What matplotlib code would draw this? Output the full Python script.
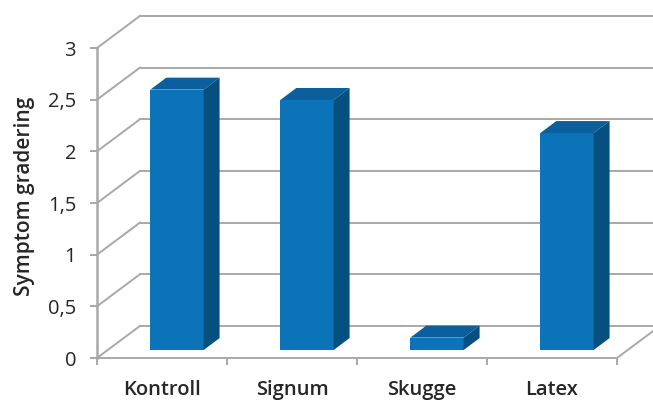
import matplotlib
matplotlib.use('Agg')
import matplotlib.pyplot as plt
from matplotlib.patches import Polygon
import numpy as np

# data
kategorier = ['Kontroll', 'Signum', 'Skugge', 'Latex']
gradering = [2.52, 2.42, 0.12, 2.10]
yticks = [0, 0.5, 1, 1.5, 2, 2.5, 3]
ytick_labels = ['0', '0,5', '1', '1,5', '2', '2,5', '3']

plt.rcParams['font.family'] = ['Open Sans', 'DejaVu Sans']

# colours
c_front = '#0b73b7'
c_top = '#0a5f9c'
c_side = '#06507f'
c_grid = '#a8a8a8'

# oblique depth (data units)
wall_dx, wall_dy = 0.33, 0.31     # back wall
bar_dx, bar_dy = 0.115, 0.077     # bar front face offset
dep_dx, dep_dy = 0.123, 0.116     # bar depth
bredd = 0.41

fig = plt.figure(figsize=(6.53, 4.03), dpi=100)
ax = fig.add_axes([97/653, 45/403, 520/653, 310/403])
ax.set_xlim(-0.5, 3.5)
ax.set_ylim(0, 3)

# back wall gridlines + left wall diagonals
for v in yticks:
    ax.plot([-0.5 + wall_dx, 5], [v + wall_dy, v + wall_dy], color=c_grid, lw=1.4,
            clip_on=False, zorder=1)
    ax.plot([-0.5, -0.5 + wall_dx], [v, v + wall_dy], color=c_grid, lw=1.4,
            clip_on=False, zorder=1)
# floor right edge
ax.plot([3.5, 3.5 + wall_dx], [0, wall_dy], color=c_grid, lw=1.4, clip_on=False, zorder=1)

# bars
x = np.arange(len(kategorier))
ax.bar(x + bar_dx, gradering, bredd, bottom=bar_dy, color=c_front, clip_on=False, zorder=3)
for xi, v in zip(x, gradering):
    l = xi + bar_dx - bredd / 2
    r = xi + bar_dx + bredd / 2
    t = bar_dy + v
    b = bar_dy
    top = Polygon([(l, t), (r, t), (r + dep_dx, t + dep_dy), (l + dep_dx, t + dep_dy)],
                  closed=True, facecolor=c_top, edgecolor='none', clip_on=False, zorder=3)
    side = Polygon([(r, b), (r + dep_dx, b + dep_dy), (r + dep_dx, t + dep_dy), (r, t)],
                   closed=True, facecolor=c_side, edgecolor='none', clip_on=False, zorder=3)
    ax.add_patch(top)
    ax.add_patch(side)

# axes
for s in ['top', 'right']:
    ax.spines[s].set_visible(False)
ax.spines['left'].set_color(c_grid)
ax.spines['left'].set_linewidth(1.8)
ax.spines['bottom'].set_color(c_grid)
ax.spines['bottom'].set_linewidth(1.4)
ax.spines['left'].set_zorder(2)
ax.spines['bottom'].set_zorder(2)

ax.set_yticks(yticks)
ax.set_yticklabels(ytick_labels)
ax.tick_params(axis='y', length=5, width=1.4, color=c_grid, pad=10,
               labelsize=14.5, labelcolor='#262626')

ax.set_xticks(x)
ax.set_xticklabels(kategorier, fontweight='semibold')
ax.set_xticks(np.arange(-0.5, 4, 1), minor=True)
ax.tick_params(axis='x', which='major', length=0, pad=16, labelsize=14.5, labelcolor='#262626')
ax.tick_params(axis='x', which='minor', length=5, width=1.4, color=c_grid)

ax.set_ylabel('Symptom gradering', fontsize=15, fontweight='semibold', color='#262626')
ax.yaxis.set_label_coords(-0.12, 0.52)

fig.savefig('out.png', dpi=100)
